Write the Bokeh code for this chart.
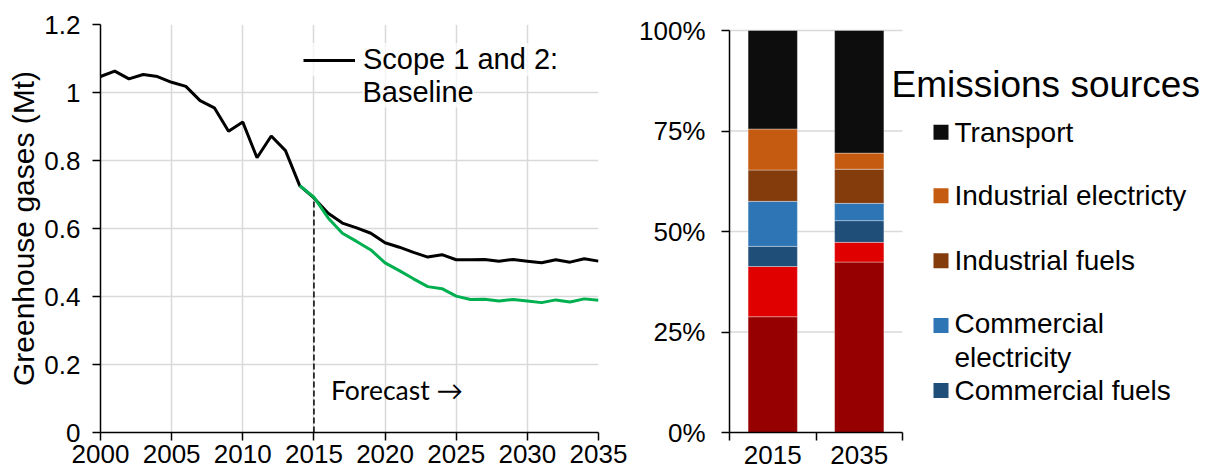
from bokeh.plotting import figure
from bokeh.models import (Legend, LegendItem, Label, BoxAnnotation, NumeralTickFormatter,
                          FixedTicker, Range1d, ColumnDataSource)
from bokeh.layouts import row
from bokeh.embed import file_html
from bokeh.resources import INLINE

# ---------------- data ----------------
years_baseline = list(range(2000, 2036))
baseline = [1.047, 1.063, 1.040, 1.053, 1.047, 1.030, 1.018, 0.976, 0.955, 0.886,
            0.913, 0.808, 0.872, 0.829, 0.726, 0.690, 0.645, 0.616, 0.602, 0.586,
            0.558, 0.545, 0.530, 0.516, 0.523, 0.508, 0.508, 0.509, 0.504, 0.509,
            0.504, 0.499, 0.508, 0.501, 0.511, 0.504]
years_scenario = list(range(2014, 2036))
scenario = [0.726, 0.692, 0.631, 0.586, 0.562, 0.537, 0.499, 0.476, 0.452, 0.429,
            0.423, 0.401, 0.391, 0.392, 0.387, 0.391, 0.387, 0.382, 0.390, 0.384,
            0.393, 0.389]
forecast_year = 2015
x_ticks = [2000, 2005, 2010, 2015, 2020, 2025, 2030, 2035]
y_ticks = [0, 0.2, 0.4, 0.6, 0.8, 1.0, 1.2]

categories = ["2015", "2035"]
sources = ["Residential fuels", "Residential electricity", "Commercial fuels",
           "Commercial electricity", "Industrial fuels", "Industrial electricty", "Transport"]
res_fuels = [28.8, 42.4]
res_elec = [12.5, 4.9]
com_fuels = [5.0, 5.4]
com_elec = [11.2, 4.3]
ind_fuels = [7.8, 8.5]
ind_elec = [10.2, 4.0]
transport = [24.5, 30.5]
pct_ticks = [0, 0.25, 0.5, 0.75, 1.0]

colors = ["#960000", "#E00000", "#1F4E79", "#2E75B6", "#843C0C", "#C55A11", "#0D0D0D"]

FONT = "Liberation Sans"
GRID = "#D9D9D9"
FRAME_H = 408

# ---------------- left chart ----------------
p1 = figure(frame_width=498, frame_height=FRAME_H, min_border_left=100, min_border_right=30,
            min_border_top=24, min_border_bottom=42,
            x_range=Range1d(2000, 2035), y_range=Range1d(0, 1.2),
            output_backend="svg", toolbar_location=None)
p1.outline_line_color = None
for g in (p1.xgrid[0], p1.ygrid[0]):
    g.grid_line_color = GRID
    g.grid_line_width = 1.5

p1.xaxis.ticker = FixedTicker(ticks=x_ticks)
p1.yaxis.ticker = FixedTicker(ticks=y_ticks)
p1.yaxis.formatter = NumeralTickFormatter(format="0.[0]")
for ax in (p1.xaxis[0], p1.yaxis[0]):
    ax.axis_line_color = "black"
    ax.axis_line_width = 1.5
    ax.major_tick_line_color = "black"
    ax.major_tick_line_width = 1.5
    ax.major_tick_in = 0
    ax.major_tick_out = 8
    ax.minor_tick_line_color = None
    ax.major_label_text_font = FONT
    ax.major_label_text_font_size = "26px"
    ax.major_label_text_color = "black"
p1.xaxis.major_label_standoff = 4
p1.yaxis.major_label_standoff = 12
p1.yaxis.axis_label = "Greenhouse gases (Mt)"
p1.yaxis.axis_label_text_font = FONT
p1.yaxis.axis_label_text_font_size = "30px"
p1.yaxis.axis_label_text_font_style = "normal"
p1.yaxis.axis_label_text_color = "black"
p1.yaxis.axis_label_standoff = 1

base_src = ColumnDataSource(dict(x=years_baseline, y=baseline))
scen_src = ColumnDataSource(dict(x=years_scenario, y=scenario))
fc_val = baseline[years_baseline.index(forecast_year)]
p1.segment(x0=[forecast_year], y0=[0], x1=[forecast_year], y1=[fc_val],
           line_color="black", line_width=1.5, line_dash="6 3")
r_base = p1.line("x", "y", source=base_src, line_color="black", line_width=3)
r_scen = p1.line("x", "y", source=scen_src, line_color="#00B050", line_width=3)

leg1 = Legend(items=[LegendItem(label="Scope 1 and 2:", renderers=[r_base])],
              location=(203, 356), glyph_width=52, label_standoff=8, padding=6,
              label_text_font=FONT, label_text_font_size="29px", label_text_color="black",
              border_line_color=None, background_fill_color="white",
              background_fill_alpha=0.7)
p1.add_layout(leg1, "center")
p1.add_layout(Label(x=262, y=341, x_units="screen", y_units="screen", text="Baseline",
                    text_baseline="middle", text_font=FONT, text_font_size="29px",
                    text_color="black", background_fill_color="white",
                    background_fill_alpha=0.7))

p1.add_layout(Label(x=forecast_year + 1.2, y=0.126, text="Forecast \u2192",
                    text_baseline="middle", text_font="Lato", text_font_size="26.5px",
                    text_color="black"))

# ---------------- right chart ----------------
n = len(categories)
cat_px = 173 / n                      # pixel width of one category slot
p2_frame_w = 482
src = ColumnDataSource(dict(
    x=[i + 0.5 for i in range(n)],
    **{s: [v / 100 for v in vals] for s, vals in zip(
        sources, [res_fuels, res_elec, com_fuels, com_elec, ind_fuels, ind_elec, transport])}
))

p2 = figure(frame_width=p2_frame_w, frame_height=FRAME_H, min_border_left=101, min_border_right=0,
            min_border_top=24, min_border_bottom=42,
            x_range=Range1d(0, p2_frame_w / cat_px), y_range=Range1d(0, FRAME_H / 402),
            output_backend="svg", toolbar_location=None)
p2.outline_line_color = None
p2.xgrid.grid_line_color = None
p2.ygrid.grid_line_color = None
p2.segment(x0=[0] * (len(pct_ticks) - 1), x1=[n] * (len(pct_ticks) - 1),
           y0=pct_ticks[1:], y1=pct_ticks[1:], line_color=GRID, line_width=1.5)
p2.yaxis.ticker = FixedTicker(ticks=pct_ticks)
p2.yaxis.formatter = NumeralTickFormatter(format="0%")
p2.yaxis.bounds = (0, 1)
p2.xaxis.bounds = (0, n)
p2.xaxis.ticker = FixedTicker(ticks=[i + 0.5 for i in range(n)],
                              minor_ticks=list(range(n + 1)))
p2.xaxis.major_label_overrides = {i + 0.5: c for i, c in enumerate(categories)}
for ax in (p2.xaxis[0], p2.yaxis[0]):
    ax.axis_line_color = "black"
    ax.axis_line_width = 1.5
    ax.major_tick_line_color = "black"
    ax.major_tick_line_width = 1.5
    ax.major_tick_in = 0
    ax.major_tick_out = 8
    ax.major_label_text_font = FONT
    ax.major_label_text_font_size = "26px"
    ax.major_label_text_color = "black"
p2.yaxis.minor_tick_line_color = None
p2.yaxis.major_label_standoff = 16
p2.xaxis.major_tick_out = 0
p2.xaxis.minor_tick_line_color = "black"
p2.xaxis.minor_tick_line_width = 1.5
p2.xaxis.minor_tick_in = 0
p2.xaxis.minor_tick_out = 8
p2.xaxis.major_label_standoff = 5

p2.vbar_stack(sources, x="x", width=0.57, color=colors, source=src,
              line_color="white", line_alpha=0.35, line_width=1)

# legend drawn as annotations (screen units relative to frame bottom-left)
p2.add_layout(Label(x=162, y=348, x_units="screen", y_units="screen",
                    text="Emissions sources", text_baseline="middle",
                    text_font=FONT, text_font_size="37px", text_color="black"))
legend_entries = [("Transport", 6, 300.3, 300.3),
                  ("Industrial electricty", 5, 236.7, 236.7),
                  ("Industrial fuels", 4, 171.7, 171.7),
                  ("Commercial\nelectricity", 3, 107, 92),
                  ("Commercial fuels", 2, 42, 42)]
for text, ci, ysq, ytx in legend_entries:
    p2.add_layout(BoxAnnotation(left=204, right=219, bottom=ysq - 7.5, top=ysq + 7.5,
                                left_units="screen", right_units="screen",
                                bottom_units="screen", top_units="screen",
                                fill_color=colors[ci], fill_alpha=1, line_color=None))
    p2.add_layout(Label(x=225, y=ytx, x_units="screen", y_units="screen",
                        text=text, text_baseline="middle", text_line_height=1.1,
                        text_font=FONT, text_font_size="28px", text_color="black"))

layout = row(p1, p2)
open("out.html", "w").write(file_html(layout, INLINE))
